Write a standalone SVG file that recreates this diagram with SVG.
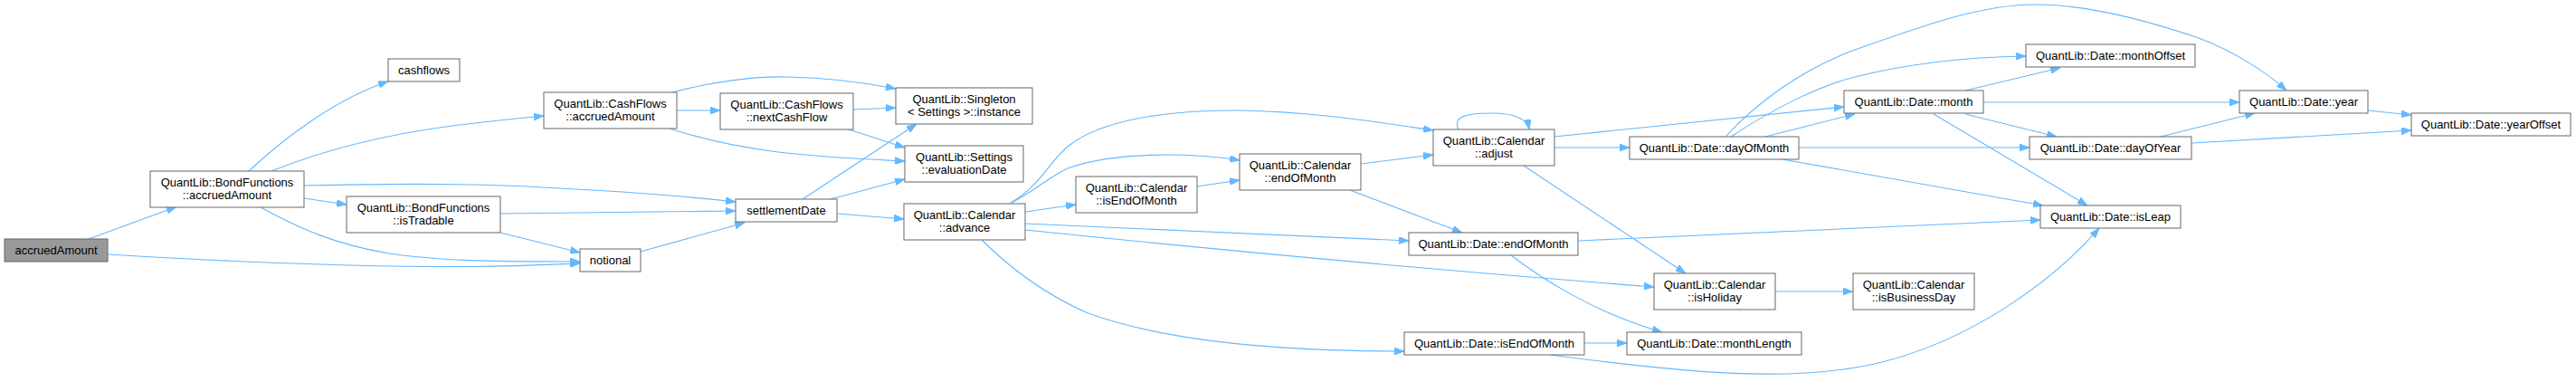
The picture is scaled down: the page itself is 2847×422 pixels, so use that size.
<svg xmlns="http://www.w3.org/2000/svg" width="2847" height="422" viewBox="0 0 2847 422">
<style>
.n rect{fill:#ffffff;stroke:#666666;stroke-width:1}
.n text{font-family:"Liberation Sans",Arial,sans-serif;font-size:13px;fill:#000000;text-anchor:middle}
#root rect{fill:#999999}
#edges path{fill:none;stroke:#63b8ff;stroke-width:1.1;marker-end:url(#ah)}
</style>
<defs>
<marker id="ah" markerWidth="11" markerHeight="8" refX="11" refY="4" orient="auto" markerUnits="userSpaceOnUse">
<path d="M0,0 L11,4 L0,8 z" fill="#63b8ff" stroke="#63b8ff" stroke-width="0.8"/>
</marker>
</defs>
<rect width="2847" height="422" fill="#ffffff"/>
<g id="edges">
<path d="M98,264 L195,228.5"/>
<path d="M119,281 C250,289 400,295 520,294.5 C580,294 615,292 641,291"/>
<path d="M288,229 C330,252 370,270 430,280 C490,289 560,289 641,289"/>
<path d="M275,189 C320,147 375,108 429,90"/>
<path d="M300,189 C360,165 430,148 500,139 C540,134 570,131 601,128"/>
<path d="M336,205 C420,203 520,202 600,207 C680,211 760,217 813,223"/>
<path d="M336,219 L383,226"/>
<path d="M553,236 L813,233"/>
<path d="M553,257 L641,279"/>
<path d="M708,278 L823,246"/>
<path d="M748,122 L796,122"/>
<path d="M743,102 C780,92 830,84 870,85 C920,86 960,92 990,98"/>
<path d="M740,142 C780,155 820,163 860,168 C910,174 960,176 1000,178"/>
<path d="M943,121 L990,119"/>
<path d="M938,143 L1000,163"/>
<path d="M887,220 L1013,137"/>
<path d="M918,220 L1000,198"/>
<path d="M925,236 L999,242"/>
<path d="M1117,224 C1150,205 1160,178 1180,162 C1215,133 1290,121 1370,122 C1450,123 1530,136 1584,144"/>
<path d="M1118,224 C1145,210 1160,195 1180,186 C1230,168 1310,168 1370,177"/>
<path d="M1133,234 L1189,226"/>
<path d="M1133,247 L1557,266"/>
<path d="M1133,254 Q1480,290 1828,317"/>
<path d="M1085,265 C1120,300 1160,327 1200,345 C1280,375 1400,388 1552,388"/>
<path d="M1323,206 L1370,199"/>
<path d="M1504,181 L1584,171"/>
<path d="M1492,210 L1616,257"/>
<path d="M1612,143 C1605,128 1622,125 1650,125 C1672,125 1688,131 1690,143"/>
<path d="M1718,151 L2038,118"/>
<path d="M1718,163 L1801,163"/>
<path d="M1684,183 L1863,302"/>
<path d="M1745,266 L2255,243"/>
<path d="M1670,282 C1700,305 1760,345 1837,367"/>
<path d="M1751,379 L1798,379"/>
<path d="M1713,392 C1850,410 1980,425 2080,400 C2180,375 2270,310 2320,252"/>
<path d="M1961,322 L2048,322"/>
<path d="M1907,151 C1940,115 1990,77 2050,55 C2130,27 2190,5 2250,5 C2310,5 2380,25 2430,42 C2470,57 2505,80 2527,100"/>
<path d="M1913,151 C1960,120 2010,95 2050,85 C2110,70 2180,63 2239,62"/>
<path d="M1951,151 L2050,126"/>
<path d="M1988,163 L2243,163"/>
<path d="M1970,176 L2258,227"/>
<path d="M2172,100 L2277,75"/>
<path d="M2192,113 L2475,113"/>
<path d="M2172,126 L2273,151"/>
<path d="M2137,126 L2307,227"/>
<path d="M2388,151 L2492,125"/>
<path d="M2423,158 L2665,144"/>
<path d="M2617,122 L2665,127"/>
</g>
<g id="root" class="n"><rect x="5" y="264" width="114" height="25"/><text x="62" y="281">accruedAmount</text></g>
<g id="bf_accruedAmount" class="n"><rect x="166" y="189" width="170" height="40"/><text x="251" y="205.5">QuantLib::BondFunctions</text><text x="251" y="219.5">::accruedAmount</text></g>
<g id="cashflows" class="n"><rect x="429" y="65" width="79" height="25"/><text x="468.5" y="82">cashflows</text></g>
<g id="bf_isTradable" class="n"><rect x="383" y="217" width="170" height="40"/><text x="468" y="233.5">QuantLib::BondFunctions</text><text x="468" y="247.5">::isTradable</text></g>
<g id="cf_accruedAmount" class="n"><rect x="601" y="102" width="147" height="40"/><text x="674.5" y="118.5">QuantLib::CashFlows</text><text x="674.5" y="132.5">::accruedAmount</text></g>
<g id="cf_nextCashFlow" class="n"><rect x="796" y="103" width="147" height="40"/><text x="869.5" y="119.5">QuantLib::CashFlows</text><text x="869.5" y="133.5">::nextCashFlow</text></g>
<g id="singleton_instance" class="n"><rect x="990" y="97" width="151" height="40"/><text x="1065.5" y="113.5">QuantLib::Singleton</text><text x="1065.5" y="127.5">&lt; Settings &gt;::instance</text></g>
<g id="settings_evaluationDate" class="n"><rect x="1000" y="161" width="131" height="40"/><text x="1065.5" y="177.5">QuantLib::Settings</text><text x="1065.5" y="191.5">::evaluationDate</text></g>
<g id="settlementDate" class="n"><rect x="813" y="220" width="112" height="25"/><text x="869" y="237">settlementDate</text></g>
<g id="notional" class="n"><rect x="641" y="275" width="67" height="25"/><text x="674.5" y="292">notional</text></g>
<g id="cal_advance" class="n"><rect x="999" y="225" width="134" height="40"/><text x="1066" y="241.5">QuantLib::Calendar</text><text x="1066" y="255.5">::advance</text></g>
<g id="cal_isEndOfMonth" class="n"><rect x="1189" y="195" width="134" height="40"/><text x="1256" y="211.5">QuantLib::Calendar</text><text x="1256" y="225.5">::isEndOfMonth</text></g>
<g id="cal_endOfMonth" class="n"><rect x="1370" y="170" width="134" height="40"/><text x="1437" y="186.5">QuantLib::Calendar</text><text x="1437" y="200.5">::endOfMonth</text></g>
<g id="cal_adjust" class="n"><rect x="1584" y="143" width="134" height="40"/><text x="1651" y="159.5">QuantLib::Calendar</text><text x="1651" y="173.5">::adjust</text></g>
<g id="date_endOfMonth" class="n"><rect x="1557" y="257" width="187" height="25"/><text x="1650.5" y="274">QuantLib::Date::endOfMonth</text></g>
<g id="date_isEndOfMonth" class="n"><rect x="1552" y="367" width="199" height="25"/><text x="1651.5" y="384">QuantLib::Date::isEndOfMonth</text></g>
<g id="date_dayOfMonth" class="n"><rect x="1801" y="151" width="187" height="25"/><text x="1894.5" y="168">QuantLib::Date::dayOfMonth</text></g>
<g id="date_month" class="n"><rect x="2038" y="100" width="154" height="25"/><text x="2115" y="117">QuantLib::Date::month</text></g>
<g id="cal_isHoliday" class="n"><rect x="1828" y="302" width="134" height="40"/><text x="1895" y="318.5">QuantLib::Calendar</text><text x="1895" y="332.5">::isHoliday</text></g>
<g id="cal_isBusinessDay" class="n"><rect x="2048" y="302" width="134" height="40"/><text x="2115" y="318.5">QuantLib::Calendar</text><text x="2115" y="332.5">::isBusinessDay</text></g>
<g id="date_monthLength" class="n"><rect x="1798" y="367" width="193" height="25"/><text x="1894.5" y="384">QuantLib::Date::monthLength</text></g>
<g id="date_monthOffset" class="n"><rect x="2239" y="49" width="187" height="25"/><text x="2332.5" y="66">QuantLib::Date::monthOffset</text></g>
<g id="date_year" class="n"><rect x="2475" y="100" width="142" height="25"/><text x="2546" y="117">QuantLib::Date::year</text></g>
<g id="date_yearOffset" class="n"><rect x="2665" y="125" width="176" height="25"/><text x="2753" y="142">QuantLib::Date::yearOffset</text></g>
<g id="date_dayOfYear" class="n"><rect x="2243" y="151" width="179" height="25"/><text x="2332.5" y="168">QuantLib::Date::dayOfYear</text></g>
<g id="date_isLeap" class="n"><rect x="2255" y="227" width="155" height="25"/><text x="2332.5" y="244">QuantLib::Date::isLeap</text></g>
</svg>
